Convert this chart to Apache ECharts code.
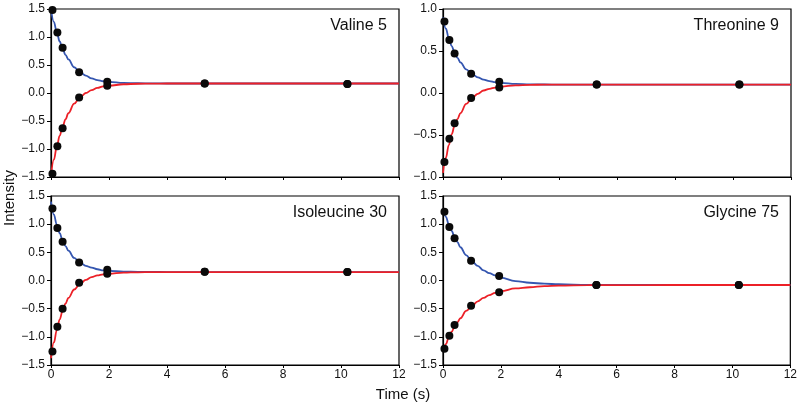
<!DOCTYPE html>
<html>
<head>
<meta charset="utf-8">
<script src="https://cdn.jsdelivr.net/npm/echarts@6/dist/echarts.min.js"></script>
<style>
html,body{margin:0;padding:0;background:#fff;}
#chart{width:800px;height:407px;}
</style>
</head>
<body>
<div id="chart"></div>
<script>
// ---- data ----
const panelNames = ["Valine 5", "Threonine 9", "Isoleucine 30", "Glycine 75"];
const xTicks = [0, 2, 4, 6, 8, 10, 12];
const pointTimes = [0.05, 0.22, 0.40, 0.97, 1.94, 5.30, 10.22];

const valineBluePts = [1.48, 1.08, 0.81, 0.37, 0.20, 0.17, 0.16];
const valineRedPts  = [-1.44, -0.95, -0.63, -0.08, 0.13, 0.17, 0.16];
const threonineBluePts = [0.85, 0.63, 0.47, 0.23, 0.135, 0.10, 0.10];
const threonineRedPts  = [-0.82, -0.545, -0.36, -0.06, 0.065, 0.10, 0.10];
const isoleucineBluePts = [1.28, 0.93, 0.69, 0.32, 0.19, 0.155, 0.15];
const isoleucineRedPts  = [-1.26, -0.82, -0.50, -0.04, 0.12, 0.155, 0.15];
const glycineBluePts = [1.22, 0.95, 0.75, 0.35, 0.08, -0.08, -0.08];
const glycineRedPts  = [-1.21, -0.98, -0.79, -0.45, -0.21, -0.08, -0.08];

// fitted curves
const curveTimes = [0, 0.1, 0.2, 0.3, 0.4, 0.5, 0.6, 0.8, 1.0, 1.2, 1.4, 1.6, 1.8, 2.0, 2.5, 3.0, 3.5, 4.0, 5.0, 6.0, 8.0, 12.0];
const valineBlueFit = [1.50, 1.27, 1.08, 0.92, 0.79, 0.68, 0.60, 0.46, 0.37, 0.31, 0.26, 0.23, 0.21, 0.20, 0.18, 0.174, 0.172, 0.17, 0.17, 0.17, 0.17, 0.17];
const valineRedFit  = [-1.48, -1.19, -0.96, -0.76, -0.60, -0.47, -0.36, -0.19, -0.08, 0.00, 0.05, 0.09, 0.12, 0.13, 0.156, 0.165, 0.168, 0.17, 0.17, 0.17, 0.17, 0.17];
const threonineBlueFit = [0.90, 0.765, 0.653, 0.559, 0.482, 0.417, 0.364, 0.282, 0.226, 0.187, 0.160, 0.142, 0.129, 0.120, 0.108, 0.103, 0.101, 0.10, 0.10, 0.10, 0.10, 0.10];
const threonineRedFit  = [-0.95, -0.77, -0.62, -0.49, -0.39, -0.31, -0.24, -0.13, -0.06, -0.01, 0.03, 0.05, 0.065, 0.077, 0.091, 0.097, 0.099, 0.10, 0.10, 0.10, 0.10, 0.10];
const isoleucineBlueFit = [1.40, 1.17, 0.99, 0.84, 0.71, 0.61, 0.53, 0.40, 0.32, 0.26, 0.23, 0.20, 0.18, 0.17, 0.158, 0.153, 0.151, 0.15, 0.15, 0.15, 0.15, 0.15];
const isoleucineRedFit  = [-1.38, -1.10, -0.88, -0.69, -0.54, -0.41, -0.31, -0.16, -0.06, 0.01, 0.06, 0.09, 0.11, 0.12, 0.14, 0.146, 0.149, 0.15, 0.15, 0.15, 0.15, 0.15];
const glycineBlueFit = [1.28, 1.13, 1.00, 0.88, 0.77, 0.68, 0.59, 0.45, 0.34, 0.26, 0.18, 0.13, 0.09, 0.05, -0.01, -0.04, -0.057, -0.067, -0.076, -0.079, -0.08, -0.08];
const glycineRedFit  = [-1.26, -1.13, -1.01, -0.91, -0.82, -0.74, -0.67, -0.54, -0.45, -0.37, -0.31, -0.26, -0.22, -0.19, -0.14, -0.12, -0.10, -0.091, -0.083, -0.081, -0.08, -0.08];

const yRanges = [[-1.5, 1.5], [-1.0, 1.0], [-1.5, 1.5], [-1.5, 1.5]];

const bluePts = [valineBluePts, threonineBluePts, isoleucineBluePts, glycineBluePts];
const redPts = [valineRedPts, threonineRedPts, isoleucineRedPts, glycineRedPts];
const blueFits = [valineBlueFit, threonineBlueFit, isoleucineBlueFit, glycineBlueFit];
const redFits = [valineRedFit, threonineRedFit, isoleucineRedFit, glycineRedFit];

// ---- layout ----
const FONT = "Liberation Sans, Arial, Helvetica, sans-serif";
const BLUE = "#3556b0";
const RED = "#ec2027";
const grids = [
  {left: 51, top: 9, width: 348, height: 168},
  {left: 443, top: 9, width: 348, height: 168},
  {left: 51, top: 196, width: 348, height: 169},
  {left: 443, top: 196, width: 348, height: 169}
];
const titlePos = [[387, 26], [779, 26], [387, 213], [779, 213]];

function fmt(v) {
  const s = Math.abs(v).toFixed(1);
  return v < -1e-9 ? "\u2212" + s : s;
}
function zip(xs, ys) { return xs.map((x, i) => [x, ys[i]]); }

const option = {
  backgroundColor: "#fff",
  animation: false,
  grid: grids.map(g => Object.assign({show: true, borderColor: "#000", borderWidth: 1.2, backgroundColor: "transparent"}, g)),
  xAxis: grids.map((g, i) => ({
    type: "value", gridIndex: i, min: xTicks[0], max: xTicks[xTicks.length - 1], interval: 2,
    axisLine: {show: true, onZero: false, lineStyle: {color: "#000", width: 1.2}},
    axisTick: {show: true, length: 3, lineStyle: {color: "#000"}},
    axisLabel: {show: i >= 2, color: "#111", fontFamily: FONT, fontSize: 12, margin: 4,
      formatter: v => String(v)},
    splitLine: {show: false}
  })),
  yAxis: grids.map((g, i) => ({
    type: "value", gridIndex: i, min: yRanges[i][0], max: yRanges[i][1], interval: 0.5,
    axisLine: {show: true, onZero: false, lineStyle: {color: "#000", width: 1.2}},
    axisTick: {show: true, length: 4, lineStyle: {color: "#000"}},
    axisLabel: {color: "#111", fontFamily: FONT, fontSize: 12, margin: 6, formatter: fmt},
    splitLine: {show: false}
  })),
  series: [],
  graphic: []
};

for (let i = 0; i < 4; i++) {
  option.series.push({
    type: "line", xAxisIndex: i, yAxisIndex: i, data: zip(curveTimes, blueFits[i]),
    showSymbol: false, smooth: 0.4, smoothMonotone: "x", lineStyle: {color: BLUE, width: 1.8}, z: 2, silent: true
  });
  option.series.push({
    type: "line", xAxisIndex: i, yAxisIndex: i, data: zip(curveTimes, redFits[i]),
    showSymbol: false, smooth: 0.4, smoothMonotone: "x", lineStyle: {color: RED, width: 1.8}, z: 3, silent: true
  });
  option.series.push({
    type: "scatter", xAxisIndex: i, yAxisIndex: i, data: zip(pointTimes, bluePts[i]),
    symbolSize: 8, itemStyle: {color: "#0a0a0a", opacity: 1}, z: 5
  });
  option.series.push({
    type: "scatter", xAxisIndex: i, yAxisIndex: i, data: zip(pointTimes, redPts[i]),
    symbolSize: 8, itemStyle: {color: "#0a0a0a", opacity: 1}, z: 5
  });
  option.graphic.push({
    type: "text", x: titlePos[i][0], y: titlePos[i][1], z: 10,
    style: {text: panelNames[i], fill: "#111", font: "16px " + FONT, textAlign: "right", textVerticalAlign: "middle"}
  });
}
option.graphic.push({
  type: "text", x: 10, y: 198, rotation: Math.PI / 2, z: 10,
  style: {text: "Intensity", fill: "#111", font: "15px " + FONT, textAlign: "center", textVerticalAlign: "middle"}
});
option.graphic.push({
  type: "text", x: 403, y: 395, z: 10,
  style: {text: "Time (s)", fill: "#111", font: "15px " + FONT, textAlign: "center", textVerticalAlign: "middle"}
});

const chart = echarts.init(document.getElementById("chart"), null, {renderer: "canvas"});
chart.setOption(option);
</script>
</body>
</html>
